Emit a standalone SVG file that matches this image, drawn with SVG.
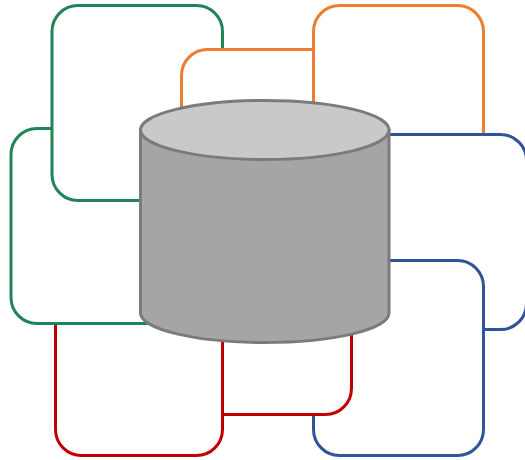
<svg xmlns="http://www.w3.org/2000/svg" width="525" height="460" viewBox="0 0 525 460">
<style>
.box{fill:#fff;stroke-width:3}
.g{stroke:#218456}.o{stroke:#ED7D31}.b{stroke:#2F5597}.r{stroke:#C00000}
.cyl{stroke:#7B7B7B;stroke-width:3}
</style>
<rect width="525" height="460" fill="#fff"/>
<g id="green-back"><rect class="box g" x="11" y="128.5" width="211.5" height="195" rx="26" ry="26"/></g>
<g id="green-front"><rect class="box g" x="52" y="5.5" width="170.5" height="195" rx="26" ry="26"/></g>
<g id="orange-back"><rect class="box o" x="181.5" y="49.5" width="170" height="195" rx="26" ry="26"/></g>
<g id="orange-front"><rect class="box o" x="313.5" y="5.5" width="170" height="195" rx="26" ry="26"/></g>
<g id="blue-back"><rect class="box b" x="313.5" y="134.5" width="213" height="195" rx="26" ry="26"/></g>
<g id="blue-front"><rect class="box b" x="313.5" y="260.5" width="170" height="195" rx="26" ry="26"/></g>
<g id="red-back"><rect class="box r" x="181.5" y="219.5" width="170" height="195" rx="26" ry="26"/></g>
<g id="red-front"><path class="box r" d="M55.5 325V429.5a26 26 0 0 0 26 26H196.5a26 26 0 0 0 26-26V325"/></g>
<g id="cylinder">
<path class="cyl" fill="#A5A5A5" d="M140.5 130V313A124.25 29.5 0 0 0 389 313V130Z"/>
<ellipse class="cyl" fill="#C9C9C9" cx="264.75" cy="130" rx="124.25" ry="29.5"/>
</g>
<g id="connectors"/>
</svg>
